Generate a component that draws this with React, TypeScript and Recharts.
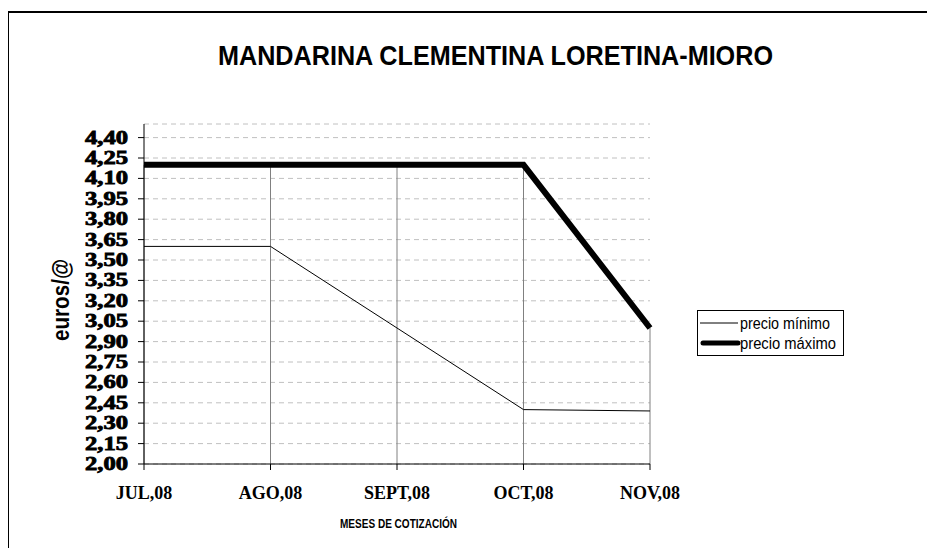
import { LineChart, Line, XAxis, YAxis, CartesianGrid, ReferenceLine } from "recharts";

const months = ["JUL,08", "AGO,08", "SEPT,08", "OCT,08", "NOV,08"];
const precioMinimo = [3.6, 3.6, 3.0, 2.4, 2.39];
const precioMaximo = [4.2, 4.2, 4.2, 4.2, 3.0];
const yTicks = [2.0, 2.15, 2.3, 2.45, 2.6, 2.75, 2.9, 3.05, 3.2, 3.35, 3.5, 3.65, 3.8, 3.95, 4.1, 4.25, 4.4];

const data = months.map((m, i) => ({ mes: m, min: precioMinimo[i], max: precioMaximo[i] }));

const fmt = (v: number) => v.toFixed(2).replace(".", ",");

// heavy serif price labels, stretched like the Excel original
function PriceTick(props: any) {
  const { x, y, payload } = props;
  return (
    <text
      x={x}
      y={y}
      dy={6}
      textAnchor="end"
      fontFamily="Liberation Serif"
      fontWeight={700}
      fontSize={18}
      fill="#000"
      stroke="#000"
      strokeWidth={0.8}
      textLength={43}
      lengthAdjust="spacingAndGlyphs"
    >
      {fmt(payload.value)}
    </text>
  );
}

export default function App() {
  return (
    <div style={{ position: "relative", width: 919, height: 540 }}>
      {/* outer chart frame, only left/top edges are visible in the source */}
      <div style={{ position: "absolute", left: 0, top: 3, width: 919, height: 537, borderLeft: "1px solid #000", borderTop: "2px solid #000" }} />
      <div style={{ position: "absolute", left: 0, top: 0 }}>
        <LineChart width={919} height={540} data={data} margin={{ top: 116, right: 277, bottom: 44, left: 66 }}>
          <CartesianGrid vertical={false} stroke="#c0c0c0" strokeDasharray="5 4" />
          {data.map((d) => (
            <ReferenceLine
              key={d.mes}
              segment={[{ x: d.mes, y: 2 }, { x: d.mes, y: Math.max(d.min, d.max) }]}
              stroke="#808080"
              strokeWidth={1}
            />
          ))}
          <XAxis
            dataKey="mes"
            height={40}
            tickSize={6}
            tickMargin={16}
            stroke="#000"
            tick={{ fill: "#000", fontFamily: "Liberation Serif", fontWeight: 700, fontSize: 18 }}
          />
          <YAxis
            domain={[2, 4.5]}
            ticks={yTicks}
            width={70}
            tickSize={6}
            tickMargin={10}
            interval={0}
            stroke="#000"
            tick={<PriceTick />}
          />
          <Line type="linear" dataKey="min" stroke="#000" strokeWidth={1} dot={false} isAnimationActive={false} />
          <Line type="linear" dataKey="max" stroke="#000" strokeWidth={6} dot={false} isAnimationActive={false} />
        </LineChart>
      </div>
      <svg width={919} height={540} style={{ position: "absolute", left: 0, top: 0, pointerEvents: "none" }}>
        <text x={210} y={57} fontFamily="Liberation Sans" fontWeight={700} fontSize={27} textLength={555} lengthAdjust="spacingAndGlyphs" fill="#000">
          MANDARINA CLEMENTINA LORETINA-MIORO
        </text>
        <text
          transform="translate(61,292) rotate(-90)"
          textAnchor="middle"
          fontFamily="Liberation Sans"
          fontWeight={700}
          fontSize={23}
          textLength={82}
          lengthAdjust="spacingAndGlyphs"
          fill="#000"
        >
          euros/@
        </text>
        <text x={332} y={520} fontFamily="Liberation Sans" fontWeight={700} fontSize={13} textLength={117} lengthAdjust="spacingAndGlyphs" fill="#000">
          MESES DE COTIZACIÓN
        </text>
      </svg>
      <svg width={200} height={46} style={{ position: "absolute", left: 689, top: 302, overflow: "visible" }}>
        <rect x={0.5} y={0.5} width={146} height={45} fill="#fff" stroke="#000" />
        <line x1={3} y1={13} x2={41} y2={13} stroke="#000" strokeWidth={1} />
        <text x={43} y={19} fontFamily="Liberation Sans" fontSize={17} textLength={90} lengthAdjust="spacingAndGlyphs" fill="#000">precio mínimo</text>
        <line x1={6} y1={33} x2={41} y2={33} stroke="#000" strokeWidth={5} strokeLinecap="round" />
        <text x={43} y={39} fontFamily="Liberation Sans" fontSize={17} textLength={96} lengthAdjust="spacingAndGlyphs" fill="#000">precio máximo</text>
      </svg>
    </div>
  );
}
